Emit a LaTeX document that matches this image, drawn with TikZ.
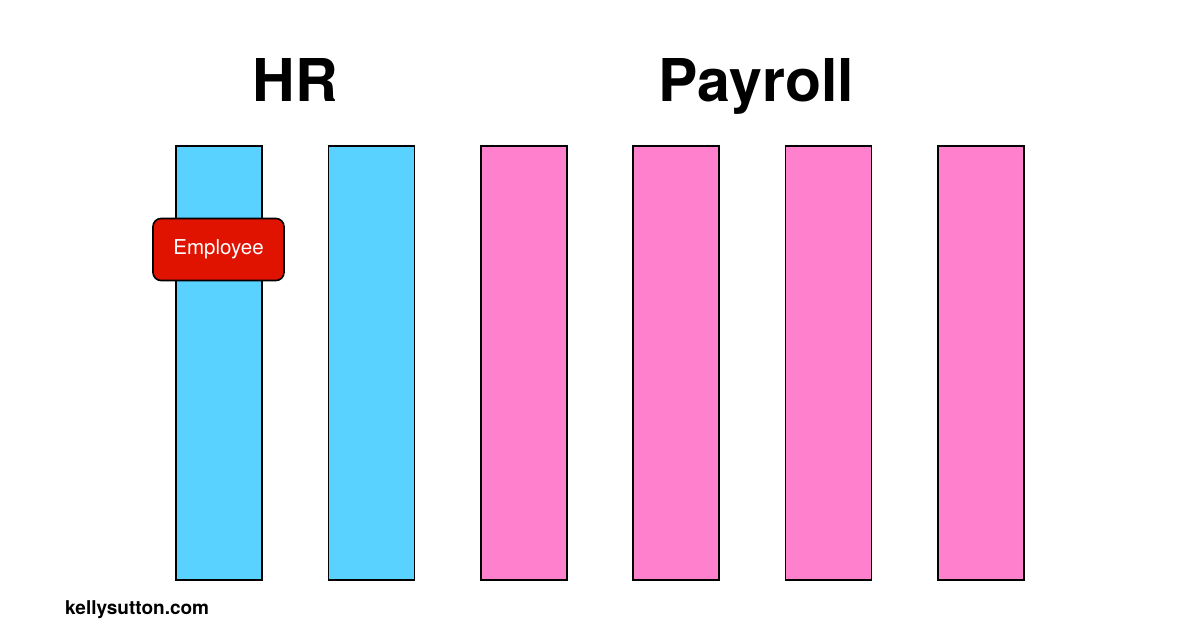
\documentclass[tikz,border=0pt]{standalone}
\usepackage{fontspec}
\setmainfont{TeX Gyre Heros}
\definecolor{hrblue}{HTML}{5AD2FF}
\definecolor{paypink}{HTML}{FF80CC}
\definecolor{emred}{HTML}{E01200}
\begin{document}
\begin{tikzpicture}[x=1pt, y=-1pt]
        \tikzset{
  column/.style={
    rectangle,
    draw=black,
    line width=1.6pt,
    minimum width=86pt,
    minimum height=434pt,
    inner sep=0pt
  },
  hr column/.style={
    fill=hrblue
  },
  payroll column/.style={
    fill=paypink
  },
  record/.style={
    rectangle,
    rounded corners=8pt,
    draw=black,
    line width=1.6pt,
    fill=emred,
    text=white,
    minimum width=131pt,
    minimum height=62pt,
    font=\fontsize{20.5}{24}\selectfont
  },
  title/.style={
    anchor=base,
    font=\fontsize{59}{66}\selectfont\bfseries
  }
}

\useasboundingbox (0,0) rectangle (1200,630);

\foreach \m [count=\x] in {hr,hr,payroll,payroll,payroll,payroll}
  \node [column, \m\space column] (column-\x) at (219+152.4*\x-152.4,363) {};

\node [record] (employee) at (218.5,249.5) {Employee};

\node [title] (hr) at (295,101) {HR};
\node [title] (payroll) at (756,101) {Payroll};

\node [anchor=base west, inner sep=0pt, font=\fontsize{19}{22}\selectfont\bfseries] (site) at (65,614) {kellysutton.com};
      \end{tikzpicture}
\end{document}
